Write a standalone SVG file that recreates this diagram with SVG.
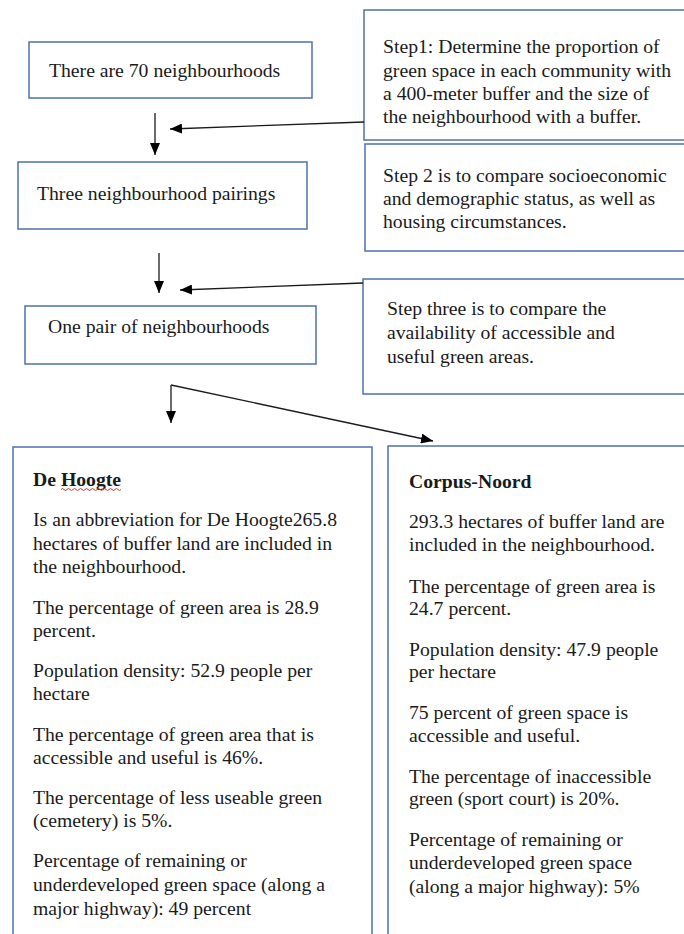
<svg xmlns="http://www.w3.org/2000/svg" width="684" height="934" viewBox="0 0 684 934">
<defs>
<style>
.box{fill:#ffffff;stroke:#4f72ad;stroke-width:1.5}
.t{font-family:"Liberation Serif","Times New Roman",serif;font-size:19.7px;fill:#1a1a1a}
.b{font-weight:bold}
.c{stroke:#1a1a1a;stroke-width:1.3;fill:none}
</style>
<marker id="ah" viewBox="0 0 12 10" refX="12" refY="5" markerWidth="12" markerHeight="10" markerUnits="userSpaceOnUse" orient="auto">
<path d="M0,0 L12,5 L0,10 z" fill="#000"/>
</marker>
</defs>
<rect width="684" height="934" fill="#ffffff"/>

<g id="n70">
<rect class="box" x="29" y="42" width="283" height="56"/>
<text class="t" x="49" y="77">There are 70 neighbourhoods</text>
</g>

<g id="step1">
<rect class="box" x="364" y="10" width="340" height="130"/>
<text class="t" x="383" y="53">Step1: Determine the proportion of</text>
<text class="t" x="383" y="77">green space in each community with</text>
<text class="t" x="383" y="100">a 400-meter buffer and the size of</text>
<text class="t" x="383" y="123">the neighbourhood with a buffer.</text>
</g>

<g id="step2">
<rect class="box" x="365" y="144" width="340" height="107"/>
<text class="t" x="383" y="182">Step 2 is to compare socioeconomic</text>
<text class="t" x="383" y="205">and demographic status, as well as</text>
<text class="t" x="383" y="228">housing circumstances.</text>
</g>

<g id="pairings">
<rect class="box" x="18" y="162" width="289" height="67"/>
<text class="t" x="37" y="200">Three neighbourhood pairings</text>
</g>

<g id="step3">
<rect class="box" x="363" y="279" width="340" height="115"/>
<text class="t" x="387" y="315">Step three is to compare the</text>
<text class="t" x="387" y="339">availability of accessible and</text>
<text class="t" x="387" y="363">useful green areas.</text>
</g>

<g id="onepair">
<rect class="box" x="25" y="306" width="291" height="58"/>
<text class="t" x="48" y="333">One pair of neighbourhoods</text>
</g>

<g id="dehoogte">
<rect class="box" x="13" y="447" width="359" height="510"/>
<text class="t b" x="33" y="486">De Hoogte</text>
<path d="M61,489.5 q1.5,-2 3,0 t3,0 t3,0 t3,0 t3,0 t3,0 t3,0 t3,0 t3,0 t3,0 t3,0 t3,0 t3,0 t3,0 t3,0 t3,0 t3,0 t3,0 t3,0 t3,0" fill="none" stroke="#e03030" stroke-width="1"/>
<text class="t" x="33" y="526">Is an abbreviation for De Hoogte265.8</text>
<text class="t" x="33" y="550">hectares of buffer land are included in</text>
<text class="t" x="33" y="573">the neighbourhood.</text>
<text class="t" x="33" y="614">The percentage of green area is 28.9</text>
<text class="t" x="33" y="637">percent.</text>
<text class="t" x="33" y="677">Population density: 52.9 people per</text>
<text class="t" x="33" y="700">hectare</text>
<text class="t" x="33" y="741">The percentage of green area that is</text>
<text class="t" x="33" y="764">accessible and useful is 46%.</text>
<text class="t" x="33" y="804">The percentage of less useable green</text>
<text class="t" x="33" y="827">(cemetery) is 5%.</text>
<text class="t" x="33" y="867">Percentage of remaining or</text>
<text class="t" x="33" y="891">underdeveloped green space (along a</text>
<text class="t" x="33" y="915">major highway): 49 percent</text>
</g>

<g id="corpusnoord">
<rect class="box" x="388" y="446" width="320" height="510"/>
<text class="t b" x="409" y="488">Corpus-Noord</text>
<text class="t" x="409" y="528">293.3 hectares of buffer land are</text>
<text class="t" x="409" y="551">included in the neighbourhood.</text>
<text class="t" x="409" y="593">The percentage of green area is</text>
<text class="t" x="409" y="615">24.7 percent.</text>
<text class="t" x="409" y="656">Population density: 47.9 people</text>
<text class="t" x="409" y="678">per hectare</text>
<text class="t" x="409" y="719">75 percent of green space is</text>
<text class="t" x="409" y="742">accessible and useful.</text>
<text class="t" x="409" y="783">The percentage of inaccessible</text>
<text class="t" x="409" y="805">green (sport court) is 20%.</text>
<text class="t" x="409" y="846">Percentage of remaining or</text>
<text class="t" x="409" y="869">underdeveloped green space</text>
<text class="t" x="409" y="893">(along a major highway): 5%</text>
</g>

<g id="connectors">
<line class="c" x1="155" y1="113" x2="155" y2="155" marker-end="url(#ah)"/>
<line class="c" x1="364" y1="122" x2="170" y2="129" marker-end="url(#ah)"/>
<line class="c" x1="159" y1="253" x2="159" y2="293" marker-end="url(#ah)"/>
<line class="c" x1="363" y1="283" x2="180" y2="290" marker-end="url(#ah)"/>
<line class="c" x1="171" y1="385" x2="171" y2="423" marker-end="url(#ah)"/>
<line class="c" x1="171" y1="385" x2="433" y2="441" marker-end="url(#ah)"/>
</g>
</svg>
